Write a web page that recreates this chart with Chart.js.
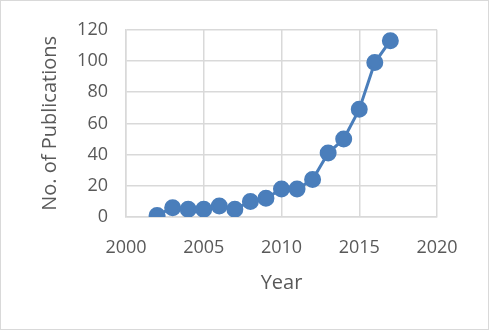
<!DOCTYPE html>
<html>
<head>
<meta charset="utf-8">
<script src="https://cdn.jsdelivr.net/npm/chart.js@4/dist/chart.umd.min.js"></script>
<style>
  html, body { margin: 0; padding: 0; background: #fff; }
  #wrap { width: 487px; height: 328px; border: 1px solid #d9d9d9; }
</style>
</head>
<body>
<div id="wrap"><canvas id="pubChart" width="487" height="328"></canvas></div>
<script>
// Số công bố theo năm
const years = [2002, 2003, 2004, 2005, 2006, 2007, 2008, 2009, 2010, 2011, 2012, 2013, 2014, 2015, 2016, 2017];
const publications = [1, 6, 5, 5, 7, 5, 10, 12, 18, 18, 24, 41, 50, 69, 99, 113];
const xTicks = [2000, 2005, 2010, 2015, 2020];
const yTicks = [0, 20, 40, 60, 80, 100, 120];

const lineColor = '#4a7ebb';
const gridColor = '#d9d9d9';
const textColor = '#595959';

const points = years.map((y, i) => ({ x: y, y: publications[i] }));

const ctx = document.getElementById('pubChart').getContext('2d');
new Chart(ctx, {
    type: 'line',
    data: {
        datasets: [{
            label: 'No. of Publications',
            data: points,
            borderColor: lineColor,
            backgroundColor: lineColor,
            borderWidth: 3,
            pointRadius: 7,
            pointBackgroundColor: lineColor,
            pointBorderColor: lineColor,
            tension: 0
        }]
    },
    options: {
        responsive: false,
        animation: false,
        layout: { padding: { left: 37, right: 51, top: 26, bottom: 34 } },
        plugins: {
            legend: { display: false },
            tooltip: { enabled: false }
        },
        scales: {
            x: {
                type: 'linear',
                min: xTicks[0],
                max: xTicks[xTicks.length - 1],
                afterBuildTicks: s => { s.ticks = xTicks.map(v => ({ value: v })); },
                afterFit: s => { s.height = 78; },
                grid: { color: gridColor, lineWidth: 1.5, drawTicks: false },
                border: { color: gridColor, width: 1.5 },
                ticks: {
                    color: textColor,
                    padding: 20,
                    maxRotation: 0,
                    font: { family: 'Open Sans', size: 18 },
                    callback: v => String(v)
                },
                title: {
                    display: true,
                    text: 'Year',
                    color: textColor,
                    padding: 0,
                    font: { family: 'Open Sans', size: 20 }
                }
            },
            y: {
                min: yTicks[0],
                max: yTicks[yTicks.length - 1],
                afterBuildTicks: s => { s.ticks = yTicks.map(v => ({ value: v })); },
                afterFit: s => { s.width = 88; },
                grid: { color: gridColor, lineWidth: 1.5, drawTicks: false },
                border: { color: gridColor, width: 1.5 },
                ticks: {
                    color: textColor,
                    padding: 18,
                    font: { family: 'Open Sans', size: 18 }
                },
                title: {
                    display: true,
                    text: 'No. of Publications',
                    color: textColor,
                    padding: 0,
                    font: { family: 'Open Sans', size: 20 }
                }
            }
        }
    }
});
</script>
</body>
</html>
